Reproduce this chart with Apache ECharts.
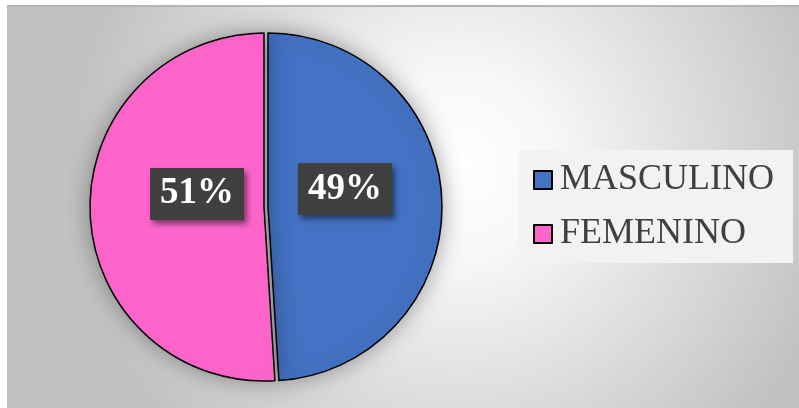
<!DOCTYPE html>
<html>
<head>
<meta charset="utf-8">
<script src="https://cdn.jsdelivr.net/npm/echarts@6/dist/echarts.min.js"></script>
<style>
  html, body { margin: 0; padding: 0; background: #fff; }
  #chart { width: 799px; height: 408px; }
</style>
</head>
<body>
<div id="chart"></div>
<script>
// datos
var categorias = ['MASCULINO', 'FEMENINO']
var valores = [49, 51]
var colores = ['#4472c4', '#ff66cc']
// desplazamiento de etiquetas (como en Excel)
var labelOffsets = [[-13, -15], [23, -16]]

var chart = echarts.init(document.getElementById('chart'))

var datos = categorias.map(function (c, i) {
  return {
    name: c,
    value: valores[i],
    selected: true,
    itemStyle: { color: colores[i] }
  }
})

var option = {
  backgroundColor: '#fff',
  animation: false,
  graphic: [
    {
      type: 'rect',
      silent: true,
      z: -10,
      shape: { x: 7, y: 5, width: 792, height: 403 },
      style: {
        fill: new echarts.graphic.RadialGradient(0.57, 0.4, 0.95, [
          { offset: 0, color: '#ffffff' },
          { offset: 0.25, color: '#f7f7f7' },
          { offset: 1, color: '#c2c2c2' }
        ])
      }
    },
    {
      type: 'line',
      silent: true,
      z: -9,
      shape: { x1: 7, y1: 6, x2: 799, y2: 6 },
      style: { stroke: '#b4b4b4', lineWidth: 2 }
    }
  ],
  legend: {
    orient: 'vertical',
    left: 519,
    top: 150,
    padding: [10, 19, 9, 14],
    backgroundColor: '#f2f2f2',
    itemWidth: 18,
    itemHeight: 18,
    itemGap: 14,
    icon: 'rect',
    itemStyle: {
      borderColor: '#000',
      borderWidth: 2,
      shadowBlur: 0,
      shadowColor: 'transparent'
    },
    textStyle: {
      fontFamily: 'Liberation Serif',
      fontSize: 36,
      lineHeight: 40,
      color: '#404040',
      padding: [0, 0, 0, 3]
    },
    data: categorias
  },
  series: [
    {
      type: 'pie',
      center: [266, 207],
      radius: 174,
      startAngle: 90,
      clockwise: true,
      selectedMode: 'multiple',
      selectedOffset: 2,
      avoidLabelOverlap: false,
      emphasis: { disabled: true },
      itemStyle: {
        borderColor: '#000',
        borderWidth: 1.5,
        shadowBlur: 22,
        shadowColor: 'rgba(0,0,0,0.35)'
      },
      label: {
        show: true,
        position: 'inside',
        formatter: '{d}%',
        fontFamily: 'Liberation Serif',
        fontWeight: 'bold',
        fontSize: 37,
        lineHeight: 38,
        color: '#fff',
        backgroundColor: '#404040',
        padding: [7, 10, 7, 10],
        shadowColor: 'rgba(0,0,0,0.5)',
        shadowBlur: 6,
        shadowOffsetX: 3,
        shadowOffsetY: 4
      },
      labelLayout: function (p) {
        return { dx: labelOffsets[p.dataIndex][0], dy: labelOffsets[p.dataIndex][1] }
      },
      labelLine: { show: false },
      data: datos
    }
  ]
}

chart.setOption(option)
</script>
</body>
</html>
